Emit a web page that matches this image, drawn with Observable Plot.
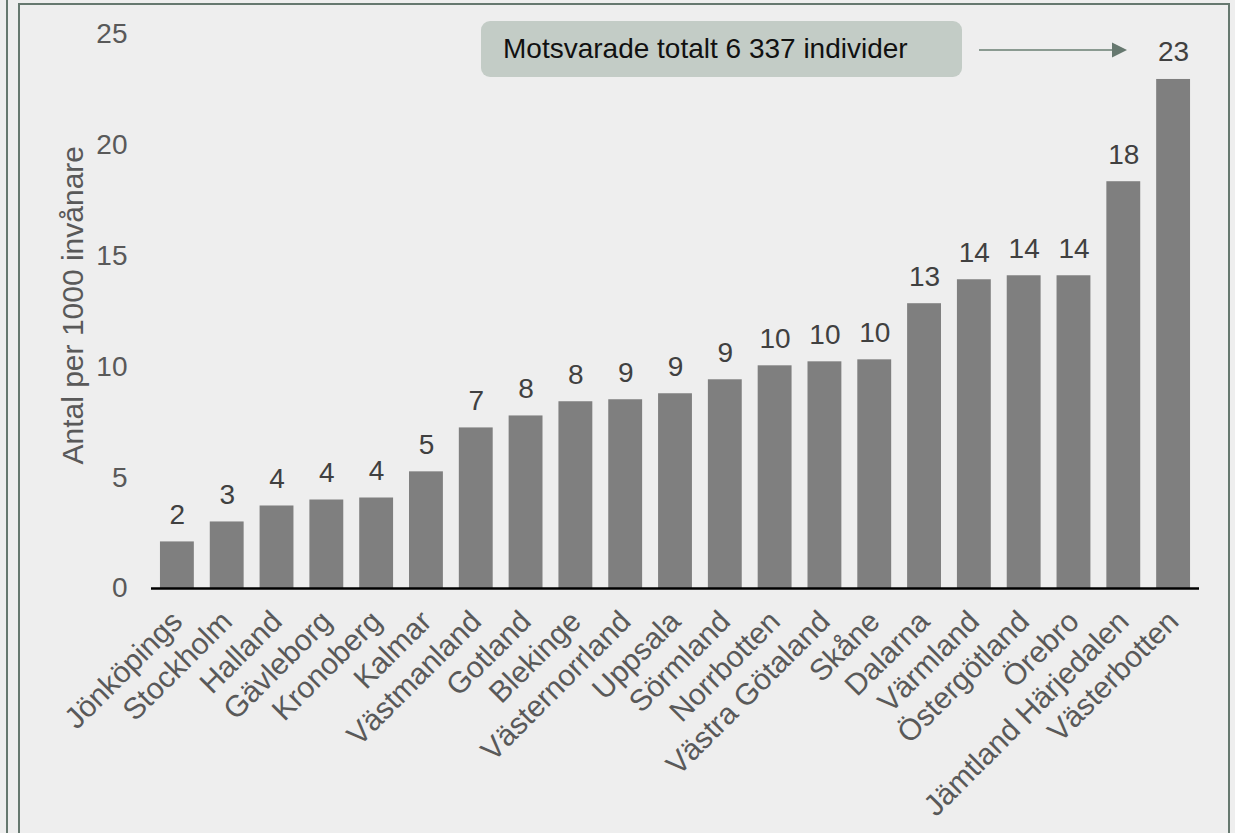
<!DOCTYPE html>
<html><head><meta charset="utf-8">
<script src="https://cdn.jsdelivr.net/npm/d3@7"></script>
<script src="https://cdn.jsdelivr.net/npm/@observablehq/plot@0.6"></script>
<style>
body{margin:0;background:#eeeeee;font-family:"Liberation Sans",Arial,sans-serif;}
#wrap{position:relative;width:1235px;height:833px;overflow:hidden;background:#eeeeee;}
#chart{position:absolute;left:0;top:0;}
.side{position:absolute;left:6px;top:0;width:2px;height:833px;background:#66786f;}
.frame{position:absolute;left:18px;top:3px;width:1208px;height:900px;border:2px solid #66786f;}
.note{position:absolute;left:481px;top:21px;width:481px;height:56px;background:#c3ccc6;border-radius:9px;font-size:28px;color:#111;line-height:56px;box-sizing:border-box;padding-left:22px;white-space:nowrap;}
#arrow{position:absolute;left:0;top:0;}
</style></head>
<body>
<div id="wrap">
  <div class="side"></div>
  <div class="frame"></div>
  <div id="chart"></div>
  <div class="note" id="note"></div>
  <svg id="arrow" width="1235" height="100"></svg>
</div>
<script>
const regions = ["Jönköpings","Stockholm","Halland","Gävleborg","Kronoberg","Kalmar","Västmanland","Gotland","Blekinge","Västernorrland","Uppsala","Sörmland","Norrbotten","Västra Götaland","Skåne","Dalarna","Värmland","Östergötland","Örebro","Jämtland Härjedalen","Västerbotten"];
const values = [2.1,3.0,3.72,3.99,4.08,5.26,7.24,7.78,8.42,8.51,8.78,9.41,10.04,10.22,10.31,12.84,13.92,14.1,14.1,18.34,22.95];
const yTicks = [0,5,10,15,20,25];
const yLabel = "Antal per 1000 invånare";
const noteText = "Motsvarade totalt 6 337 individer";

const data = regions.map((r,i)=>({region:r, value:values[i]}));

const chart = Plot.plot({
  width:1235, height:833,
  marginLeft:151, marginRight:36, marginTop:33.5, marginBottom:245,
  style:{background:"transparent", fontFamily:"'Liberation Sans', Arial, sans-serif", fontSize:"28px", color:"#595959", overflow:"visible"},
  x:{domain:regions, paddingInner:0.32, paddingOuter:0.18, round:false},
  y:{domain:[0,25]},
  marks:[
    Plot.axisY({ticks:yTicks, tickSize:0, tickPadding:24, label:null, fontSize:28, fill:"#595959"}),
    Plot.axisX({tickSize:0, tickPadding:28, tickRotate:-45, label:null, fontSize:30, fill:"#595959"}),
    Plot.text([yLabel],{frameAnchor:"left", textAnchor:"middle", rotate:-90, dx:-69, dy:-6, lineAnchor:"bottom", fontSize:30, fill:"#595959"}),
    Plot.barY(data,{x:"region", y:"value", fill:"#7f7f7f"}),
    Plot.ruleY([0],{stroke:"#000", strokeWidth:2.5}),
    Plot.text(data,{x:"region", y:"value", text:d=>d3.format(".0f")(d.value), lineAnchor:"bottom", dy:-18, fill:"#404040", fontSize:28})
  ]
});
document.getElementById("chart").appendChild(chart);
document.getElementById("note").textContent = noteText;

const svg = d3.select("#arrow");
svg.append("line").attr("x1",979).attr("x2",1113).attr("y1",50).attr("y2",50).attr("stroke","#8a9a91").attr("stroke-width",2);
svg.append("path").attr("d","M1112,42.5 L1127,50 L1112,57.5 Z").attr("fill","#66786f");
</script>
</body></html>
